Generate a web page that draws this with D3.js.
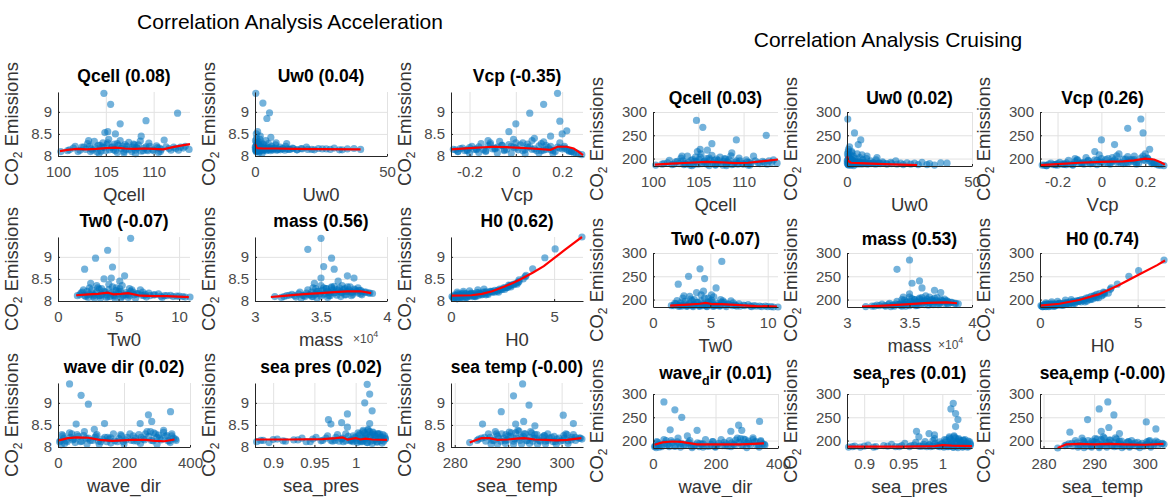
<!DOCTYPE html>
<html>
<head>
<meta charset="utf-8">
<script src="https://cdn.jsdelivr.net/npm/d3@7"></script>
<style>
  body { margin: 0; background: #fff; }
  text { font-family: "Liberation Sans", Arial, sans-serif; }
</style>
</head>
<body>
<script>

// ---- data ----
var varNames  = ["Qcell", "Uw0", "Vcp", "Tw0", "mass", "H0", "wave_dir", "sea_pres", "sea_temp"];
var accelCorr  = ["0.08", "0.04", "-0.35", "-0.07", "0.56", "0.62", "0.02", "0.02", "-0.00"];
var cruiseCorr = ["0.03", "0.02", "0.26", "-0.07", "0.53", "0.74", "0.01", "0.01", "-0.00"];

var yTicksAccel  = [8, 8.5, 9];
var yTicksCruise = [200, 250, 300];

var xTicks = [[100, 105, 110], [0, 50], [-0.2, 0, 0.2], [0, 5, 10], [3, 3.5, 4], [0, 5], [0, 200, 400], [0.9, 0.95, 1], [280, 290, 300]];
var xLimits = [[100, 113.8], [0, 50], [-0.28, 0.29], [0, 10.9], [3, 4], [0, 6.4], [0, 400], [0.878, 1.038], [279.3, 304]];

// scattered points and outliers
var qcellX = [104.8,105.5,106.5,109.2,112.5,105.2,104.9,106.0,108.7,103.2,
  100.3,101.2,101.8,102.3,102.7,103.1,103.4,103.8,104.1,104.4,
  104.7,105.0,105.3,105.6,105.9,106.2,106.5,106.8,107.1,107.4,
  107.7,108.0,108.3,108.6,108.9,109.2,109.5,109.9,110.3,110.7,
  111.1,111.6,112.1,112.6,113.1,113.7,104.3,106.9,108.1,110.5];
var qcellAccel = [9.42,9.17,8.73,8.8,8.97,8.55,8.53,8.5,8.45,8.35,
  8.1,8.14,8.22,8.13,8.2,8.28,8.1,8.33,8.09,8.24,
  8.3,8.12,8.38,8.19,8.27,8.08,8.35,8.22,8.15,8.31,
  8.1,8.25,8.18,8.34,8.12,8.21,8.29,8.14,8.23,8.1,
  8.36,8.17,8.2,8.13,8.18,8.15,8.06,8.07,8.05,8.08];
var qcellCruise = [282,267,232,240,250,220,215,218,212,205,
  186,189,196,188,194,201,187,205,186,198,
  203,188,210,193,200,185,207,196,190,203,
  186,199,192,206,188,195,201,189,197,186,
  205,191,194,188,192,190,185,186,185,186];
// dense band
var qcellBandX = [101.0,101.6,102.1,102.5,102.9,103.3,103.6,103.9,104.2,104.5,
  104.8,105.1,105.4,105.7,106.0,106.3,106.6,106.9,107.2,107.5,
  107.8,108.1,108.4,108.7,109.0,109.3,109.6,110.0,110.4,110.8,
  111.3,111.8,112.3,112.8,113.3,103.5,104.6,105.8,107.0,108.2,
  109.4,110.6,106.2,105.2,107.9];
var qcellBandAccel = [8.12,8.18,8.1,8.2,8.15,8.22,8.13,8.18,8.24,8.11,
  8.19,8.26,8.14,8.21,8.12,8.24,8.17,8.1,8.22,8.15,
  8.2,8.13,8.25,8.11,8.18,8.14,8.22,8.12,8.19,8.15,
  8.21,8.13,8.17,8.2,8.22,8.16,8.2,8.14,8.26,8.19,
  8.12,8.18,8.28,8.3,8.27];
var qcellBandCruise = [188,191,187,193,189,195,188,192,196,187,
  193,198,189,195,188,197,191,187,196,190,
  194,188,198,187,192,189,195,188,193,190,
  195,189,192,195,197,190,194,189,199,193,
  188,192,201,203,200];
var qcellTrendAccel = [[100.2,8.11],[101,8.14],[102,8.16],[103,8.15],[104,8.16],[105,8.18],[106,8.19],[107,8.17],[108,8.16],[109,8.17],[110,8.16],[111,8.15],[112,8.2],[113,8.24],[113.8,8.27]];
var qcellTrendCruise = [[100.2,187],[102,189],[104,191],[106,193],[107.5,192],[109,190],[110.5,191],[112,194],[113.8,198]];

var uw0X = [0.3,3,5.5,4.5,1,0.5,6,2,8,12,
  0.1,0.2,0.4,0.6,0.8,1.1,1.3,1.6,1.9,2.2,
  2.5,2.9,3.3,3.7,4.1,4.6,5.1,5.7,6.3,7,
  7.8,8.6,9.5,10.5,11.6,12.8,14.2,15.8,17.5,19.5,
  21.5,24,27,30,33,37.5,40,0.7,1.5,2.7];
var uw0Accel = [9.42,9.2,8.98,8.85,8.55,8.5,8.42,8.45,8.3,8.28,
  8.2,8.35,8.12,8.4,8.25,8.15,8.32,8.22,8.38,8.13,
  8.3,8.18,8.26,8.14,8.35,8.2,8.28,8.15,8.22,8.17,
  8.25,8.14,8.2,8.16,8.22,8.15,8.18,8.14,8.17,8.2,
  8.15,8.17,8.16,8.18,8.14,8.17,8.15,8.1,8.08,8.06];
var uw0Cruise = [285,255,240,230,225,215,208,212,205,202,
  195,210,188,220,200,190,208,196,215,188,
  205,192,200,189,210,194,202,190,198,192,
  200,189,195,191,197,190,193,189,192,195,
  190,191,190,192,189,191,190,186,186,185];
var uw0BandX = [0.15,0.3,0.45,0.6,0.75,0.9,1.05,1.2,1.4,1.6,
  1.8,2.0,2.3,2.6,2.9,3.2,3.5,3.8,4.2,4.6,
  5.0,5.4,5.9,6.4,6.9,7.5,8.1,8.8,9.6,10.4,
  11.3,12.2,13.3,14.5,16,17.8,20,22.5,25.5,28.5,
  32,35,0.5,1.0,2.1];
var uw0BandAccel = [8.15,8.22,8.1,8.18,8.26,8.12,8.2,8.14,8.24,8.11,
  8.19,8.13,8.21,8.16,8.12,8.2,8.15,8.18,8.12,8.17,
  8.14,8.19,8.12,8.16,8.14,8.18,8.13,8.16,8.14,8.17,
  8.13,8.16,8.15,8.17,8.14,8.16,8.15,8.14,8.16,8.15,
  8.14,8.16,8.3,8.28,8.25];
var uw0BandCruise = [190,197,187,194,202,188,196,190,199,187,
  193,189,196,191,188,194,190,192,188,191,
  189,192,188,190,189,191,188,190,189,190,
  188,189,189,190,188,189,188,187,188,187,
  187,186,205,200,198];
var uw0TrendAccel = [[0.1,8.27],[0.5,8.2],[1,8.18],[3,8.17],[8,8.17],[15,8.16],[25,8.155],[40,8.15]];
var uw0TrendCruise = [[0.1,205],[0.5,195],[1.5,191],[5,190],[15,188],[28,186]];

var vcpX = [0.18,0.12,0.06,0.19,0,0.22,-0.03,0.2,0.15,-0.12,
  -0.27,-0.25,-0.23,-0.21,-0.19,-0.17,-0.15,-0.13,-0.11,-0.09,
  -0.07,-0.05,-0.03,-0.01,0.01,0.03,0.05,0.07,0.09,0.11,
  0.13,0.15,0.17,0.19,0.21,0.23,0.25,0.27,0.285,-0.2,
  -0.16,-0.08,-0.02,0.04,0.1,0.16,0.24,-0.06,0.08,0.12];
var vcpAccel = [9.42,9.17,8.97,8.79,8.73,8.57,8.55,8.5,8.45,8.35,
  8.15,8.1,8.18,8.12,8.22,8.14,8.28,8.1,8.3,8.16,
  8.33,8.12,8.26,8.38,8.14,8.3,8.2,8.35,8.12,8.28,
  8.15,8.22,8.1,8.3,8.18,8.12,8.08,8.05,8.03,8.06,
  8.08,8.07,8.06,8.05,8.07,8.06,8.1,8.24,8.4,8.32];
var vcpCruise = [285,265,230,255,240,220,215,210,205,200,
  186,185,190,187,192,188,196,186,198,190,
  202,189,197,208,190,200,194,206,190,199,
  193,198,190,205,200,192,188,186,185,186,
  187,188,187,188,189,188,190,196,210,204];
var vcpBandX = [-0.26,-0.24,-0.22,-0.2,-0.18,-0.16,-0.14,-0.12,-0.1,-0.08,
  -0.06,-0.04,-0.02,0,0.02,0.04,0.06,0.08,0.1,0.12,
  0.14,0.16,0.18,0.2,0.22,0.24,0.26,-0.25,-0.21,-0.17,
  -0.13,-0.09,-0.05,-0.01,0.03,0.07,0.11,0.15,0.19,0.23,
  -0.11,0.0,0.05,0.13,0.21];
var vcpBandAccel = [8.14,8.17,8.12,8.19,8.15,8.21,8.14,8.23,8.16,8.2,
  8.24,8.15,8.22,8.18,8.25,8.14,8.21,8.16,8.23,8.13,
  8.19,8.12,8.2,8.16,8.15,8.1,8.07,8.1,8.14,8.16,
  8.12,8.18,8.14,8.2,8.12,8.15,8.12,8.14,8.18,8.11,
  8.26,8.3,8.27,8.24,8.22];
var vcpBandCruise = [186,188,187,189,188,191,188,193,190,192,
  195,190,196,193,198,191,197,193,199,191,
  197,192,201,196,195,190,186,185,187,188,
  187,190,189,193,190,192,191,193,197,189,
  196,200,202,198,201];
var vcpTrendAccel = [[-0.28,8.15],[-0.2,8.18],[-0.1,8.21],[-0.04,8.2],[0,8.19],[0.07,8.17],[0.15,8.14],[0.18,8.21],[0.22,8.21],[0.25,8.17],[0.27,8.1],[0.29,8.02]];
var vcpTrendCruise = [[-0.28,186],[-0.2,188],[-0.1,191],[0,193],[0.1,194],[0.15,196],[0.2,200],[0.24,198],[0.27,192],[0.29,187]];

var tw0X = [6,4.1,3.1,4.5,2.2,5.5,3.8,4.4,2.7,5.1,
  1.6,1.9,2.1,2.4,2.6,2.9,3.2,3.4,3.6,3.9,
  4.2,4.6,4.8,5.0,5.3,5.6,5.9,6.2,6.5,6.8,
  7.1,7.5,7.9,8.3,8.8,9.3,9.8,10.3,10.9,3.0,
  3.5,4.0,4.7,5.2,5.8,6.4,2.5,4.3,7.3,8.6];
var tw0Accel = [9.42,9.15,8.97,8.77,8.72,8.57,8.5,8.52,8.4,8.45,
  8.12,8.18,8.25,8.14,8.3,8.16,8.35,8.12,8.28,8.2,
  8.38,8.15,8.3,8.22,8.35,8.14,8.28,8.2,8.16,8.25,
  8.12,8.18,8.14,8.16,8.12,8.13,8.11,8.1,8.09,8.07,
  8.06,8.08,8.06,8.07,8.08,8.06,8.08,8.1,8.09,8.08];
var tw0Cruise = [282,266,250,245,233,225,215,218,208,210,
  187,192,198,188,203,190,207,187,200,194,
  210,189,203,195,206,188,200,194,190,197,
  188,191,188,189,187,186,186,185,184,186,
  185,186,185,186,186,185,186,187,186,185];
var tw0BandX = [1.8,2.0,2.2,2.4,2.6,2.8,3.0,3.2,3.4,3.6,
  3.8,4.0,4.2,4.4,4.6,4.8,5.0,5.2,5.4,5.6,
  5.8,6.0,6.3,6.6,6.9,7.2,7.6,8.0,8.5,9.0,
  9.5,10.0,10.5,2.3,2.9,3.5,4.1,4.7,5.3,5.9,
  3.3,4.5,5.1,6.1,7.0];
var tw0BandAccel = [8.14,8.2,8.12,8.22,8.15,8.25,8.13,8.2,8.27,8.15,
  8.22,8.14,8.26,8.18,8.12,8.24,8.16,8.21,8.13,8.19,
  8.15,8.22,8.14,8.17,8.13,8.15,8.12,8.14,8.11,8.12,
  8.1,8.11,8.09,8.1,8.11,8.12,8.1,8.11,8.1,8.12,
  8.3,8.32,8.28,8.25,8.2];
var tw0BandCruise = [187,191,186,193,188,196,187,192,198,189,
  194,188,197,191,187,195,189,193,187,192,
  188,194,188,190,187,188,186,187,186,186,
  185,185,184,186,186,187,186,186,186,187,
  201,203,199,197,193];
var tw0TrendAccel = [[1.5,8.13],[2.5,8.15],[3.3,8.16],[4.1,8.19],[4.6,8.15],[5.2,8.16],[5.8,8.18],[6.8,8.12],[8,8.11],[9,8.11],[10.8,8.09]];
var tw0TrendCruise = [[1.5,187],[3,189],[4.1,191],[4.6,193],[5.2,190],[6,190],[7.5,188],[9,186],[10.8,185]];

var massX = [3.5,3.4,3.58,3.52,3.6,3.7,3.75,3.5,3.45,3.63,
  3.15,3.2,3.24,3.28,3.31,3.34,3.37,3.4,3.42,3.44,
  3.46,3.48,3.5,3.52,3.54,3.56,3.58,3.6,3.62,3.64,
  3.66,3.68,3.7,3.72,3.74,3.76,3.78,3.8,3.83,3.86,
  3.89,3.35,3.47,3.55,3.65,3.73,3.81,3.43,3.57,3.69];
var massAccel = [9.42,9.17,8.97,8.78,8.72,8.57,8.52,8.52,8.4,8.45,
  8.1,8.08,8.12,8.15,8.09,8.2,8.12,8.25,8.14,8.3,
  8.16,8.22,8.35,8.15,8.28,8.2,8.32,8.18,8.26,8.3,
  8.19,8.28,8.22,8.32,8.2,8.25,8.18,8.24,8.2,8.18,
  8.17,8.06,8.07,8.08,8.1,8.12,8.14,8.1,8.12,8.14];
var massCruise = [285,265,240,235,225,220,215,212,205,208,
  185,186,188,190,186,192,188,196,189,200,
  190,195,205,191,200,194,203,192,198,201,
  193,200,195,204,194,198,192,197,194,192,
  191,185,186,187,188,189,190,187,188,189];
var massBandX = [3.22,3.26,3.3,3.33,3.36,3.39,3.41,3.43,3.45,3.47,
  3.49,3.51,3.53,3.55,3.57,3.59,3.61,3.63,3.65,3.67,
  3.69,3.71,3.73,3.75,3.77,3.79,3.81,3.84,3.87,3.38,
  3.44,3.5,3.56,3.62,3.68,3.74,3.8,3.46,3.58,3.7,
  3.52,3.6,3.66,3.78,3.54];
var massBandAccel = [8.1,8.13,8.12,8.16,8.13,8.18,8.14,8.2,8.15,8.22,
  8.16,8.24,8.17,8.22,8.18,8.25,8.19,8.23,8.2,8.26,
  8.21,8.25,8.2,8.27,8.22,8.24,8.21,8.2,8.18,8.1,
  8.1,8.11,8.12,8.13,8.14,8.15,8.16,8.28,8.3,8.32,
  8.3,8.33,8.35,8.3,8.28];
var massBandCruise = [186,187,187,189,188,190,189,192,190,194,
  191,196,192,195,193,197,194,196,195,199,
  196,198,195,200,196,197,195,194,192,186,
  186,187,188,189,190,191,192,199,201,203,
  202,204,205,201,200];
var massTrendAccel = [[3.12,8.09],[3.2,8.11],[3.3,8.14],[3.4,8.16],[3.5,8.18],[3.6,8.2],[3.7,8.22],[3.8,8.22],[3.88,8.18]];
var massTrendCruise = [[3.12,185],[3.3,187],[3.5,190],[3.65,193],[3.8,194],[3.88,192]];

var h0X = [6.35,5.05,4.55,3.96,3.64,3.3,0.1,0.2,0.3,0.4,
  0.5,0.6,0.7,0.8,0.9,1.0,1.1,1.2,1.35,1.5,
  1.65,1.8,1.95,2.1,2.25,2.4,2.55,2.7,2.85,3.0,
  3.15,3.3,3.5,2.8,3.6,0.15,0.35,0.55,0.75,0.95,
  1.15,1.4,1.7,2.0,2.3,2.6,2.9,3.2,0.25,0.45];
var h0Accel = [9.45,9.18,8.98,8.73,8.58,8.48,8.08,8.12,8.05,8.15,
  8.1,8.18,8.08,8.14,8.11,8.17,8.12,8.1,8.19,8.14,
  8.2,8.15,8.22,8.2,8.24,8.25,8.3,8.3,8.35,8.38,
  8.4,8.44,8.5,8.36,8.55,8.06,8.1,8.13,8.08,8.15,
  8.1,8.16,8.14,8.21,8.2,8.26,8.32,8.38,8.1,8.07];
var h0Cruise = [285,262,250,233,225,215,186,188,185,190,
  187,191,186,189,188,192,190,188,193,191,
  194,192,196,195,198,197,200,201,205,204,
  208,212,214,208,222,185,187,189,186,190,
  188,192,191,197,195,200,204,210,186,185];
var h0BandX = [0.05,0.12,0.18,0.22,0.28,0.33,0.38,0.42,0.48,0.53,
  0.58,0.63,0.68,0.73,0.78,0.85,0.92,0.98,1.05,1.12,
  1.18,1.25,1.32,1.4,1.48,1.56,1.64,1.72,1.8,1.9,
  2.0,2.12,2.24,2.36,2.48,2.62,2.76,2.9,3.05,3.25,
  0.3,0.6,0.9,1.3,1.6];
var h0BandAccel = [8.1,8.06,8.14,8.09,8.12,8.17,8.07,8.13,8.1,8.16,
  8.08,8.14,8.11,8.17,8.09,8.15,8.12,8.18,8.1,8.16,
  8.13,8.19,8.12,8.17,8.15,8.2,8.16,8.21,8.18,8.22,
  8.2,8.24,8.22,8.27,8.26,8.3,8.31,8.35,8.37,8.42,
  8.2,8.22,8.23,8.25,8.27];
var h0BandCruise = [187,185,189,186,188,190,186,189,187,190,
  186,189,188,191,187,190,189,192,188,191,
  190,193,190,193,192,195,193,196,195,198,
  197,200,200,203,204,207,208,211,213,216,
  193,195,196,199,200];
var h0TrendAccel = [[0,8.12],[1,8.13],[1.5,8.16],[2,8.22],[2.6,8.33],[3,8.41],[3.4,8.5],[4,8.65],[4.5,8.79],[5,8.97],[5.5,9.15],[6,9.33],[6.35,9.45]];
var h0TrendCruise = [[0,187],[1,191],[2,199],[3,211],[4,230],[5,252],[6,274],[6.4,284]];

var waveX = [35,70,92,55,141,274,284,341,249,110,
  5,15,25,35,48,58,68,80,92,105,
  118,130,142,155,168,180,192,205,218,230,
  245,258,270,283,295,308,320,333,345,356,
  20,52,88,125,160,200,250,300,340,10];
var waveAccel = [9.43,9.17,8.97,8.52,8.53,8.73,8.58,8.8,8.53,8.4,
  8.12,8.25,8.15,8.32,8.18,8.28,8.12,8.35,8.2,8.15,
  8.28,8.12,8.22,8.18,8.3,8.12,8.25,8.16,8.3,8.14,
  8.28,8.18,8.35,8.15,8.3,8.2,8.38,8.14,8.25,8.18,
  8.08,8.1,8.07,8.06,8.09,8.07,8.08,8.06,8.1,8.05];
var waveCruise = [283,266,250,223,222,233,222,241,220,210,
  187,196,189,202,192,200,188,205,194,190,
  200,188,195,192,202,188,198,190,202,189,
  200,192,205,190,202,194,206,189,198,192,
  186,187,186,185,186,186,187,185,186,185];
var waveBandX = [8,18,28,38,45,62,72,85,98,112,
  122,135,148,160,172,185,198,210,222,235,
  240,252,262,275,288,300,312,325,338,350,
  358,12,42,78,115,150,190,228,265,305,
  330,345,280,290,320];
var waveBandAccel = [8.14,8.2,8.12,8.22,8.16,8.24,8.13,8.2,8.15,8.22,
  8.13,8.18,8.12,8.21,8.14,8.19,8.12,8.22,8.15,8.2,
  8.13,8.22,8.16,8.24,8.14,8.22,8.16,8.24,8.14,8.2,
  8.15,8.28,8.3,8.26,8.25,8.22,8.28,8.25,8.3,8.27,
  8.26,8.3,8.35,8.32,8.33];
var waveBandCruise = [188,192,187,194,190,196,188,193,189,194,
  188,191,187,193,188,192,187,194,189,193,
  188,195,190,196,189,195,190,197,189,193,
  190,198,200,197,196,194,198,196,201,199,
  198,200,204,203,202];
var waveTrendAccel = [[3,8.15],[30,8.2],[57,8.22],[92,8.21],[126,8.16],[165,8.14],[225,8.16],[264,8.16],[294,8.14],[323,8.13],[353,8.17]];
var waveTrendCruise = [[5,191],[30,196],[60,198],[90,197],[140,192],[200,192],[280,192],[320,193],[355,194]];

var presX = [1.014,1.017,1.011,1.02,0.99,0.967,0.97,0.983,0.99,1.017,
  0.88,0.888,0.895,0.905,0.915,0.925,0.935,0.945,0.952,0.96,
  0.966,0.972,0.978,0.983,0.988,0.993,0.997,1.0,1.003,1.006,
  1.009,1.012,1.015,1.018,1.021,1.024,1.027,1.03,1.033,1.036,
  0.985,0.995,1.002,1.008,1.014,1.02,1.026,1.032,0.975,0.94];
var presAccel = [9.42,9.2,9.0,8.82,8.75,8.62,8.52,8.55,8.45,8.53,
  8.12,8.15,8.1,8.18,8.13,8.16,8.2,8.12,8.22,8.15,
  8.25,8.13,8.28,8.18,8.3,8.14,8.25,8.2,8.32,8.15,
  8.35,8.2,8.38,8.25,8.32,8.18,8.3,8.22,8.28,8.2,
  8.12,8.14,8.1,8.12,8.1,8.08,8.11,8.09,8.15,8.12];
var presCruise = [280,258,268,245,212,220,208,215,204,230,
  186,188,186,190,187,189,192,187,194,189,
  196,188,198,191,200,189,197,193,202,190,
  205,193,208,196,202,191,200,194,199,193,
  187,188,186,187,186,185,186,186,188,187];
var presBandX = [0.885,0.9,0.912,0.93,0.948,0.958,0.964,0.97,0.976,0.98,
  0.984,0.988,0.991,0.994,0.997,0.999,1.001,1.004,1.006,1.008,
  1.01,1.012,1.014,1.016,1.018,1.02,1.022,1.024,1.026,1.028,
  1.03,1.032,1.034,1.036,1.005,1.011,1.017,1.023,1.029,1.035,
  1.009,1.015,1.021,1.027,1.013];
var presBandAccel = [8.15,8.17,8.14,8.16,8.18,8.14,8.2,8.15,8.22,8.13,
  8.2,8.14,8.24,8.16,8.12,8.22,8.14,8.26,8.12,8.2,
  8.14,8.24,8.1,8.22,8.13,8.28,8.15,8.24,8.12,8.2,
  8.14,8.22,8.13,8.18,8.3,8.32,8.35,8.28,8.3,8.25,
  8.38,8.4,8.34,8.3,8.28];
var presBandCruise = [187,188,186,188,189,187,190,188,192,187,
  191,188,194,189,187,193,188,196,187,192,
  188,195,186,193,187,198,189,196,187,192,
  188,194,187,190,201,203,205,200,202,197,
  208,210,204,201,199];
var presTrendAccel = [[0.878,8.17],[0.92,8.17],[0.96,8.18],[0.976,8.2],[0.984,8.22],[0.99,8.17],[1.0,8.2],[1.006,8.17],[1.012,8.19],[1.02,8.17],[1.038,8.16]];
var presTrendCruise = [[0.878,187],[0.95,187],[0.99,188],[1.0,190],[1.012,189],[1.038,188]];

var tempX = [292.7,291,293.9,288.7,300.3,292.9,291.4,302.2,285.2,295,
  282.8,284.5,285.6,286.3,287,287.6,288.2,288.8,289.4,290,
  290.6,291.2,291.8,292.4,293,293.6,294.2,294.8,295.4,296,
  296.7,297.4,298.1,298.8,299.5,300.2,301,301.8,302.6,303.5,
  286.8,288,289.5,291,292.5,294,295.5,297,299,301.2];
var tempAccel = [9.43,9.16,8.95,8.8,8.72,8.58,8.52,8.53,8.52,8.48,
  8.1,8.18,8.22,8.3,8.15,8.35,8.2,8.3,8.14,8.25,
  8.32,8.18,8.38,8.22,8.3,8.15,8.35,8.2,8.28,8.13,
  8.25,8.15,8.22,8.12,8.2,8.15,8.28,8.16,8.22,8.2,
  8.07,8.06,8.08,8.06,8.07,8.08,8.06,8.07,8.06,8.08];
var tempCruise = [283,268,255,245,240,228,220,225,218,215,
  184,190,194,200,189,205,193,200,188,197,
  203,191,208,195,201,189,206,193,199,188,
  197,190,195,189,194,190,200,191,196,194,
  186,185,186,185,186,187,185,186,185,186];
var tempBandX = [284.2,285,285.8,286.6,287.3,288,288.6,289.2,289.8,290.4,
  291,291.6,292.2,292.8,293.4,294,294.6,295.2,295.8,296.4,
  297,297.7,298.4,299.1,299.8,300.5,301.2,301.9,302.6,303.3,
  303.8,287.8,289.6,291.4,293.2,295,296.8,298.6,300.4,302.2,
  290.2,292,294.4,297.4,300.8];
var tempBandAccel = [8.15,8.2,8.13,8.22,8.15,8.25,8.13,8.2,8.16,8.24,
  8.13,8.2,8.15,8.24,8.14,8.22,8.13,8.2,8.15,8.22,
  8.13,8.2,8.12,8.18,8.13,8.2,8.14,8.22,8.15,8.2,
  8.18,8.3,8.28,8.32,8.3,8.28,8.26,8.24,8.26,8.28,
  8.34,8.36,8.32,8.3,8.3];
var tempBandCruise = [189,193,188,195,189,197,188,193,190,196,
  188,193,189,196,189,195,188,193,189,195,
  188,193,188,191,188,193,189,195,190,193,
  192,200,199,202,201,199,198,196,197,199,
  204,205,203,200,199];
var tempTrendAccel = [[282.8,8.1],[284,8.16],[285,8.2],[286.5,8.2],[288,8.16],[290,8.17],[291.5,8.19],[293,8.2],[295,8.17],[297,8.16],[299,8.15],[301,8.16],[303.7,8.2]];
var tempTrendCruise = [[282.8,184],[284.5,192],[287,193],[290,192],[293,193],[296,192],[300,191],[303.7,193]];


// ---- tables built from the arrays above ----
var allX = [qcellX.concat(qcellBandX), uw0X.concat(uw0BandX), vcpX.concat(vcpBandX),
            tw0X.concat(tw0BandX), massX.concat(massBandX), h0X.concat(h0BandX),
            waveX.concat(waveBandX), presX.concat(presBandX), tempX.concat(tempBandX)];
var allAccel = [qcellAccel.concat(qcellBandAccel), uw0Accel.concat(uw0BandAccel), vcpAccel.concat(vcpBandAccel),
                tw0Accel.concat(tw0BandAccel), massAccel.concat(massBandAccel), h0Accel.concat(h0BandAccel),
                waveAccel.concat(waveBandAccel), presAccel.concat(presBandAccel), tempAccel.concat(tempBandAccel)];
var allCruise = [qcellCruise.concat(qcellBandCruise), uw0Cruise.concat(uw0BandCruise), vcpCruise.concat(vcpBandCruise),
                 tw0Cruise.concat(tw0BandCruise), massCruise.concat(massBandCruise), h0Cruise.concat(h0BandCruise),
                 waveCruise.concat(waveBandCruise), presCruise.concat(presBandCruise), tempCruise.concat(tempBandCruise)];
var allTrendAccel = [qcellTrendAccel, uw0TrendAccel, vcpTrendAccel, tw0TrendAccel, massTrendAccel, h0TrendAccel, waveTrendAccel, presTrendAccel, tempTrendAccel];
var allTrendCruise = [qcellTrendCruise, uw0TrendCruise, vcpTrendCruise, tw0TrendCruise, massTrendCruise, h0TrendCruise, waveTrendCruise, presTrendCruise, tempTrendCruise];

var groups = [
  { title: "Correlation Analysis Acceleration", tx: 290, ty: 29,
    lefts: [58, 255, 451], tops: [92, 237, 383], w: 132, h: 64,
    yDomain: [8, 9.45], yTicks: yTicksAccel, corr: accelCorr,
    ys: allAccel, trends: allTrendAccel, tex: false, labelOff: 40 },
  { title: "Correlation Analysis Cruising", tx: 888, ty: 47,
    lefts: [653, 847, 1040], tops: [112, 253, 394], w: 125, h: 54,
    yDomain: [184, 300], yTicks: yTicksCruise, corr: cruiseCorr,
    ys: allCruise, trends: allTrendCruise, tex: true, labelOff: 50 }
];

var fmt = function(d) { return d < 0 ? "-" + Math.abs(d) : String(d); };

var svg = d3.select("body").append("svg")
            .attr("width", 1175)
            .attr("height", 497);

groups.forEach(function(grp) {
  svg.append("text")
     .attr("x", grp.tx)
     .attr("y", grp.ty)
     .attr("text-anchor", "middle")
     .style("font-size", "21px")
     .style("fill", "#000")
     .text(grp.title);

  varNames.forEach(function(name, i) {
    drawPanel(grp, name, i);
  });
});


function drawPanel(grp, name, i)
{
  var col = i % 3, row = Math.floor(i / 3);
  var w = grp.w, h = grp.h;

  var g = svg.append("g")
             .attr("transform", "translate(" + grp.lefts[col] + "," + grp.tops[row] + ")");

  var x = d3.scaleLinear().domain(xLimits[i]).range([0, w]);
  var y = d3.scaleLinear().domain(grp.yDomain).range([h, 0]);

  // grid
  var gx = g.append("g")
            .attr("transform", "translate(0," + h + ")")
            .call(d3.axisBottom(x).tickValues(xTicks[i]).tickSize(-h).tickFormat(""));
  var gy = g.append("g")
            .call(d3.axisLeft(y).tickValues(grp.yTicks).tickSize(-w).tickFormat(""));
  [gx, gy].forEach(function(s) {
    s.select(".domain").remove();
    s.selectAll("line").style("stroke", "#e2e2e2").style("stroke-width", 1);
  });

  // points
  var pts = allX[i].map(function(v, k) { return [v, grp.ys[i][k]]; });
  g.append("g").selectAll("circle")
   .data(pts)
   .enter().append("circle")
   .attr("cx", function(d) { return x(d[0]); })
   .attr("cy", function(d) { return y(d[1]); })
   .attr("r", 3.6)
   .style("fill", "#0072BD")
   .style("fill-opacity", 0.55);

  // trend
  var line = d3.line()
               .x(function(d) { return x(d[0]); })
               .y(function(d) { return y(d[1]); });
  g.append("path")
   .datum(grp.trends[i])
   .attr("d", line)
   .style("fill", "none")
   .style("stroke", "#ff0000")
   .style("stroke-width", 2.2);

  // axes
  var ax = g.append("g")
            .attr("transform", "translate(0," + h + ")")
            .call(d3.axisBottom(x).tickValues(xTicks[i]).tickFormat(fmt)
                    .tickSizeInner(-2).tickSizeOuter(0).tickPadding(10));
  var ay = g.append("g")
            .call(d3.axisLeft(y).tickValues(grp.yTicks).tickFormat(fmt)
                    .tickSizeInner(-2).tickSizeOuter(0).tickPadding(6));
  [ax, ay].forEach(function(s) {
    s.select(".domain").style("stroke", "#262626").style("stroke-width", 1);
    s.selectAll("line").style("stroke", "#262626");
    s.selectAll("text")
     .style("font-family", "'Liberation Sans', Arial, sans-serif")
     .style("font-size", "15px")
     .style("fill", "#4a4a4a");
  });

  // title
  var t = g.append("text")
           .attr("x", w / 2)
           .attr("text-anchor", "middle")
           .style("font-size", "17.5px")
           .style("font-weight", "bold")
           .style("fill", "#000");
  var corrTxt = " (" + grp.corr[i] + ")";
  if (name.indexOf("_") >= 0 && grp.tex)
  {
    var parts = name.split("_");
    t.attr("y", -15);
    t.append("tspan").text(parts[0]);
    t.append("tspan").attr("dy", 6).style("font-size", "12.5px").text(parts[1].charAt(0));
    t.append("tspan").attr("dy", -6).text(parts[1].slice(1) + corrTxt);
  }
  else
  {
    t.attr("y", grp.tex ? -8 : -10).text(name.replace("_", " ") + corrTxt);
  }

  // x label
  g.append("text")
   .attr("x", w / 2)
   .attr("y", h + 45)
   .attr("text-anchor", "middle")
   .style("font-size", "18.5px")
   .style("fill", "#333")
   .text(name);

  if (name === "mass")
  {
    var ex = g.append("text")
              .attr("x", w - 34)
              .attr("y", h + 42)
              .style("font-size", "12px")
              .style("fill", "#4a4a4a");
    ex.append("tspan").text("\u00d710");
    ex.append("tspan").attr("dy", -6).style("font-size", "9px").text("4");
  }

  // y label
  var yl = g.append("text")
            .attr("text-anchor", "middle")
            .attr("transform", "translate(" + (-grp.labelOff) + "," + (h / 2) + ") rotate(-90)")
            .style("font-size", "18.5px")
            .style("fill", "#333");
  yl.append("tspan").text("CO");
  yl.append("tspan").attr("dy", 4).style("font-size", "12px").text("2");
  yl.append("tspan").attr("dy", -4).text(" Emissions");
}

</script>
</body>
</html>
